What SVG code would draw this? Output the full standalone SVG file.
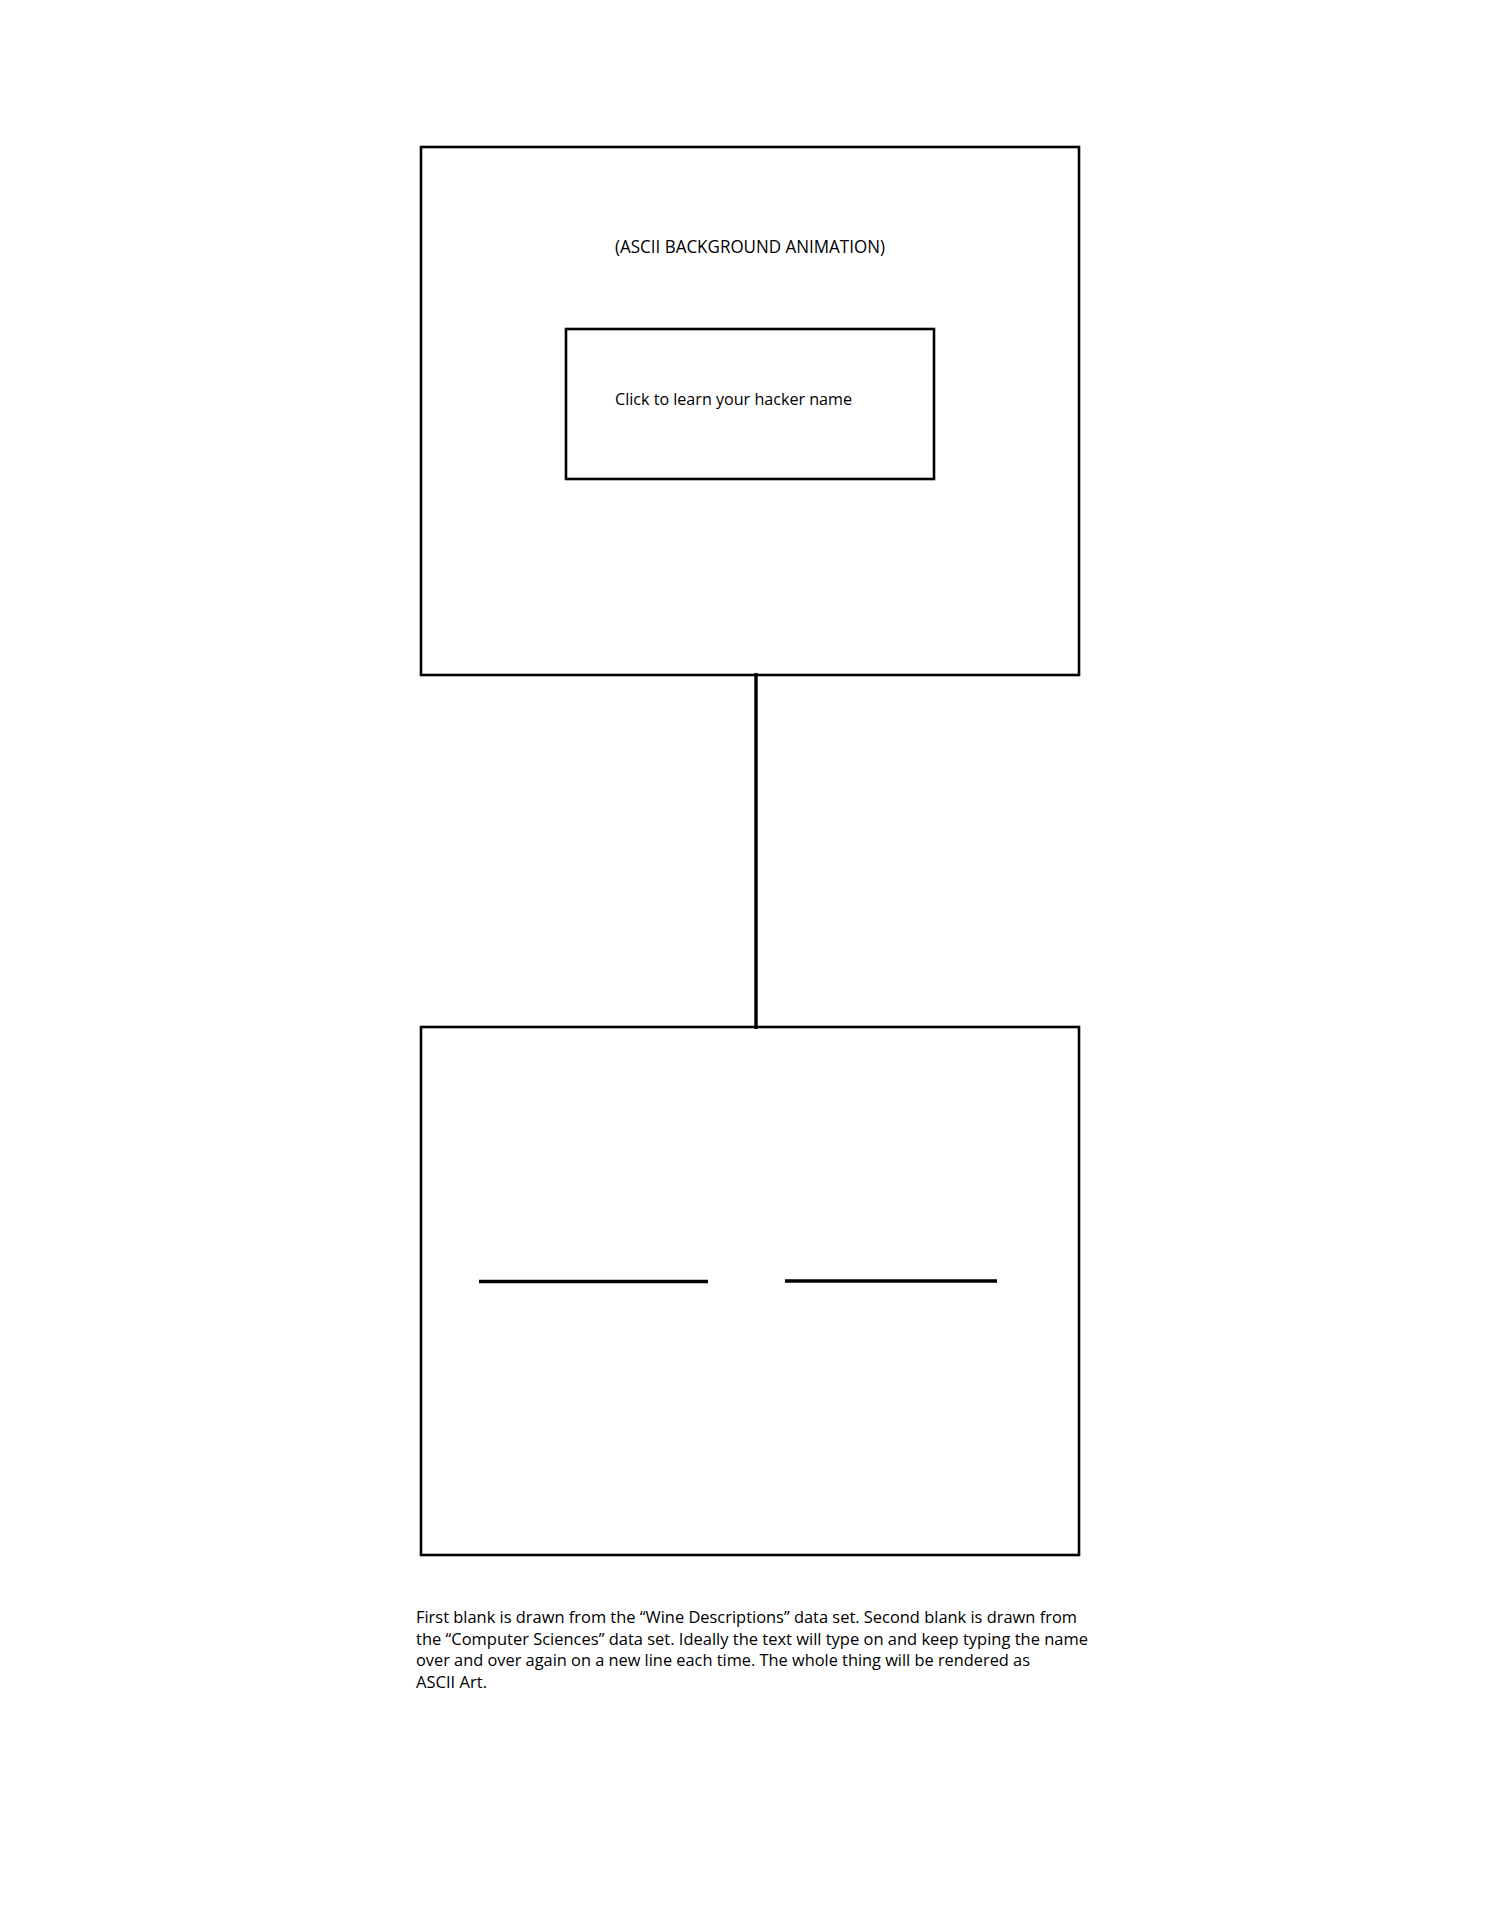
<svg xmlns="http://www.w3.org/2000/svg" width="1500" height="1920" viewBox="0 0 1500 1920">
  <style>
    .frame { fill: none; stroke: #000; stroke-width: 2.6; }
    .link { stroke: #000; stroke-width: 3.4; fill: none; }
    .blank { stroke: #000; stroke-width: 3.6; }
    .label { font-family: "Open Sans", "Noto Sans", "Liberation Sans", sans-serif; font-size: 16.5px; fill: #000; }
    .title { font-size: 18px; }
  </style>
  <rect width="1500" height="1920" fill="#fff"/>

  <!-- connector between the two screens -->
  <g id="connectors">
    <line class="link" x1="756" y1="673" x2="756" y2="1029"/>
  </g>

  <!-- landing screen -->
  <g id="landing-screen">
    <rect class="frame" x="421" y="147" width="658" height="528"/>
    <text class="label title" x="615" y="253" textLength="270" lengthAdjust="spacingAndGlyphs">(ASCII BACKGROUND ANIMATION)</text>
  </g>

  <!-- call-to-action button -->
  <g id="click-button">
    <rect class="frame" x="566" y="329" width="368" height="150"/>
    <text class="label" x="615" y="404.5" textLength="237" lengthAdjust="spacingAndGlyphs">Click to learn your hacker name</text>
  </g>

  <!-- result screen with the two blanks -->
  <g id="result-screen">
    <rect class="frame" x="421" y="1027" width="658" height="528"/>
    <line class="blank" x1="479" y1="1281.5" x2="708" y2="1281.5"/>
    <line class="blank" x1="785" y1="1281" x2="997" y2="1281"/>
  </g>

  <!-- notes -->
  <g id="notes">
    <text class="label" x="416" y="1623" textLength="661" lengthAdjust="spacingAndGlyphs">First blank is drawn from the “Wine Descriptions” data set.  Second blank is drawn from</text>
    <text class="label" x="416" y="1644.5" textLength="672" lengthAdjust="spacingAndGlyphs">the “Computer Sciences” data set.  Ideally the text will type on and keep typing the name</text>
    <text class="label" x="416" y="1666" textLength="614" lengthAdjust="spacingAndGlyphs">over and over again on a new line each time.  The whole thing will be rendered as</text>
    <text class="label" x="416" y="1687.5" textLength="71" lengthAdjust="spacingAndGlyphs">ASCII Art.</text>
  </g>
</svg>
